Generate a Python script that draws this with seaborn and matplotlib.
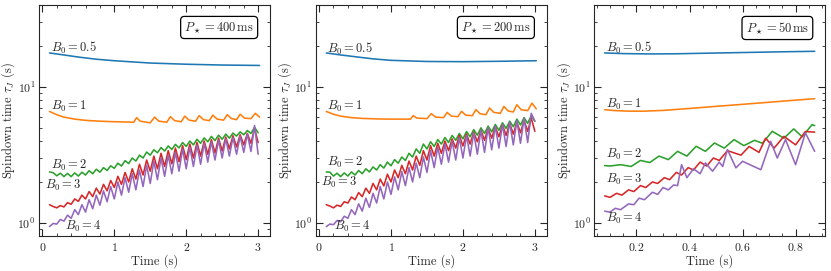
import seaborn as sns
import matplotlib.pyplot as plt
from matplotlib.ticker import MultipleLocator

# shared time grid (s) for the oscillating curves of the first two panels
t_osc = [0.10, 0.15, 0.20, 0.25, 0.30, 0.35, 0.40, 0.45, 0.50, 0.55,
         0.60, 0.65, 0.70, 0.75, 0.80, 0.85, 0.90, 0.95, 1.00, 1.05,
         1.10, 1.15, 1.20, 1.25, 1.30, 1.35, 1.40, 1.45, 1.50, 1.55,
         1.60, 1.65, 1.70, 1.75, 1.80, 1.85, 1.90, 1.95, 2.00, 2.05,
         2.10, 2.15, 2.20, 2.25, 2.30, 2.35, 2.40, 2.45, 2.50, 2.55,
         2.60, 2.65, 2.70, 2.75, 2.80, 2.85, 2.90, 2.95, 3.00]

# smooth curves (B0 = 0.5) of panels 1 and 2
t_b05 = [0.10, 0.30, 0.50, 0.75, 1.00, 1.50, 2.00, 2.50, 3.02]
p400_b05 = [17.8, 17.2, 16.6, 16.0, 15.6, 15.0, 14.7, 14.5, 14.4]
p200_b05 = [17.8, 17.2, 16.7, 16.1, 15.7, 15.4, 15.35, 15.45, 15.6]

# B0 = 1 of panels 1 and 2
t_b1 = [0.10, 0.20, 0.30, 0.45, 0.60, 0.80, 1.00, 1.20, 1.27, 1.31, 1.36, 1.50,
        1.56, 1.62, 1.73, 1.78, 1.84, 1.93, 1.98, 2.04, 2.13, 2.18, 2.24, 2.32,
        2.37, 2.43, 2.52, 2.57, 2.63, 2.70, 2.75, 2.81, 2.90, 2.96, 3.02]
p400_b1 = [6.60, 6.25, 6.00, 5.80, 5.68, 5.60, 5.55, 5.52, 5.50, 5.95, 5.60, 5.45,
           6.00, 5.60, 5.50, 6.05, 5.65, 5.55, 6.10, 5.70, 5.60, 6.15, 5.75, 5.65,
           6.20, 5.80, 5.70, 6.25, 5.85, 5.75, 6.30, 5.90, 5.85, 6.40, 6.00]
p200_b1 = [6.60, 6.30, 6.10, 5.95, 5.87, 5.82, 5.80, 5.80, 5.80, 6.15, 5.90, 5.85,
           6.36, 6.00, 5.95, 6.50, 6.10, 6.05, 6.62, 6.20, 6.15, 6.81, 6.35, 6.25,
           7.00, 6.50, 6.40, 7.20, 6.65, 6.55, 7.40, 6.80, 6.70, 7.60, 6.90]

p400_b2 = [2.37, 2.34, 2.22, 2.32, 2.19, 2.31, 2.19, 2.33, 2.21, 2.36,
           2.25, 2.42, 2.30, 2.48, 2.36, 2.55, 2.43, 2.63, 2.52, 2.75,
           2.62, 2.87, 2.73, 3.00, 2.85, 3.15, 3.00, 3.32, 3.15, 3.45,
           3.28, 3.58, 3.38, 3.68, 3.47, 3.78, 3.56, 3.90, 3.65, 4.00,
           3.75, 4.12, 3.85, 4.22, 3.95, 4.33, 4.03, 4.42, 4.12, 4.50,
           4.20, 4.58, 4.35, 4.67, 4.45, 4.78, 4.55, 5.05, 4.60]
p400_b3 = [1.36, 1.32, 1.29, 1.34, 1.31, 1.41, 1.37, 1.50, 1.44, 1.60,
           1.50, 1.70, 1.56, 1.80, 1.63, 1.92, 1.72, 2.05, 1.82, 2.20,
           1.92, 2.35, 2.00, 2.50, 2.10, 2.70, 2.25, 2.90, 2.40, 3.10,
           2.50, 3.25, 2.60, 3.40, 2.72, 3.55, 2.82, 3.70, 2.92, 3.80,
           3.00, 3.90, 3.10, 4.00, 3.20, 4.10, 3.27, 4.20, 3.38, 4.28,
           3.50, 4.38, 3.62, 4.45, 3.75, 4.55, 3.85, 4.95, 3.90]
p400_b4 = [0.94, 0.99, 0.98, 1.06, 1.03, 1.14, 1.08, 1.25, 1.15, 1.36,
           1.20, 1.48, 1.27, 1.60, 1.35, 1.72, 1.43, 1.85, 1.50, 2.00,
           1.60, 2.15, 1.68, 2.30, 1.75, 2.45, 1.85, 2.65, 1.95, 2.85,
           2.08, 3.00, 2.20, 3.15, 2.30, 3.30, 2.40, 3.50, 2.50, 3.60,
           2.60, 3.72, 2.70, 3.85, 2.80, 3.95, 2.90, 4.05, 3.00, 4.15,
           3.10, 4.25, 3.20, 4.35, 3.30, 4.50, 3.35, 5.20, 3.20]

p200_b2 = [2.37, 2.36, 2.21, 2.32, 2.19, 2.33, 2.21, 2.37, 2.25, 2.43,
           2.30, 2.50, 2.37, 2.58, 2.45, 2.68, 2.53, 2.80, 2.63, 2.92,
           2.75, 3.05, 2.88, 3.25, 3.05, 3.50, 3.25, 3.80, 3.50, 3.95,
           3.65, 4.10, 3.80, 4.25, 3.90, 4.40, 4.05, 4.55, 4.15, 4.70,
           4.30, 4.85, 4.42, 5.00, 4.55, 5.15, 4.68, 5.30, 4.80, 5.45,
           4.95, 5.60, 5.10, 5.80, 5.25, 5.95, 5.40, 6.15, 5.60]
p200_b3 = [1.36, 1.33, 1.29, 1.35, 1.32, 1.43, 1.40, 1.55, 1.48, 1.67,
           1.56, 1.80, 1.65, 1.95, 1.75, 2.10, 1.87, 2.28, 2.00, 2.45,
           2.15, 2.65, 2.30, 2.85, 2.45, 3.10, 2.65, 3.40, 2.90, 3.70,
           3.10, 3.85, 3.25, 4.00, 3.40, 4.15, 3.55, 4.40, 3.68, 4.50,
           3.80, 4.65, 3.95, 4.80, 4.05, 4.95, 4.20, 5.10, 4.30, 5.25,
           4.40, 5.40, 4.50, 5.50, 4.60, 5.70, 4.72, 5.90, 4.72]
p200_b4 = [0.94, 0.98, 0.97, 1.04, 1.02, 1.12, 1.08, 1.25, 1.15, 1.38,
           1.22, 1.52, 1.30, 1.65, 1.40, 1.85, 1.50, 2.00, 1.62, 2.18,
           1.75, 2.38, 1.88, 2.55, 2.00, 2.75, 2.15, 3.05, 2.35, 3.40,
           2.55, 3.60, 2.70, 3.80, 2.80, 4.00, 2.90, 4.25, 3.00, 4.40,
           3.10, 4.60, 3.20, 4.80, 3.30, 5.00, 3.45, 5.15, 3.55, 5.30,
           3.65, 5.50, 3.75, 5.65, 3.85, 5.90, 3.90, 6.40, 5.60]

# panel 3 (P = 50 ms)
p50_t_b05 = [0.08, 0.15, 0.25, 0.35, 0.45, 0.55, 0.65, 0.75, 0.872]
p50_b05 = [17.8, 17.6, 17.5, 17.55, 17.7, 17.85, 18.0, 18.15, 18.3]
p50_t_b1 = [0.08, 0.12, 0.17, 0.22, 0.30, 0.40, 0.50, 0.60, 0.70, 0.80, 0.872]
p50_b1 = [6.80, 6.70, 6.64, 6.63, 6.72, 6.95, 7.20, 7.45, 7.72, 8.00, 8.20]
p50_t_b2 = [0.08, 0.10, 0.14, 0.18, 0.215, 0.25, 0.285, 0.32, 0.355, 0.39, 0.425, 0.46,
            0.494, 0.531, 0.568, 0.605, 0.645, 0.675, 0.712, 0.756, 0.793, 0.825, 0.862, 0.872]
p50_b2 = [2.64, 2.62, 2.68, 2.60, 2.88, 2.78, 3.10, 2.92, 3.36, 3.10, 3.66, 3.36,
          3.87, 3.55, 4.10, 3.70, 4.05, 3.85, 4.72, 4.20, 4.91, 4.30, 5.28, 5.20]
p50_t_b3 = [0.08, 0.10, 0.125, 0.145, 0.17, 0.19, 0.215, 0.235, 0.26, 0.28, 0.305, 0.325,
            0.35, 0.37, 0.395, 0.415, 0.44, 0.465, 0.49, 0.512, 0.543, 0.594, 0.625, 0.662,
            0.687, 0.719, 0.756, 0.80, 0.837, 0.872]
p50_b3 = [1.58, 1.54, 1.65, 1.60, 1.75, 1.70, 1.88, 1.82, 2.00, 1.95, 2.15, 2.08,
          2.35, 2.25, 2.55, 2.45, 2.80, 2.62, 3.00, 2.88, 3.40, 3.15, 3.65, 3.30,
          4.20, 3.55, 4.33, 3.75, 4.70, 4.65]
p50_t_b4 = [0.08, 0.10, 0.12, 0.14, 0.17, 0.19, 0.21, 0.23, 0.26, 0.28, 0.30, 0.32,
            0.34, 0.355, 0.37, 0.39, 0.415, 0.44, 0.46, 0.487, 0.512, 0.525, 0.543, 0.575,
            0.60, 0.669, 0.706, 0.731, 0.762, 0.80, 0.837, 0.872]
p50_b4 = [1.22, 1.20, 1.28, 1.25, 1.38, 1.36, 1.52, 1.48, 1.68, 1.62, 1.82, 1.75,
          1.90, 1.88, 2.68, 2.15, 2.50, 2.30, 2.76, 2.40, 2.80, 2.60, 3.46, 2.54,
          2.84, 2.46, 3.98, 3.00, 4.10, 2.68, 4.59, 3.36]

b0_names = ["0.5", "1", "2", "3", "4"]
period_labels = ["400", "200", "50"]

panels = [
    [(t_b05, p400_b05), (t_b1, p400_b1), (t_osc, p400_b2), (t_osc, p400_b3), (t_osc, p400_b4)],
    [(t_b05, p200_b05), (t_b1, p200_b1), (t_osc, p200_b2), (t_osc, p200_b3), (t_osc, p200_b4)],
    [(p50_t_b05, p50_b05), (p50_t_b1, p50_b1), (p50_t_b2, p50_b2), (p50_t_b3, p50_b3), (p50_t_b4, p50_b4)],
]

# label anchor points (x, y) for the B0 annotations
label_pos = [
    [(0.12, 19.4), (0.12, 7.13), (0.12, 2.65), (0.03, 1.88), (0.32, 0.935)],
    [(0.115, 19.0), (0.115, 7.13), (0.115, 2.8), (0.02, 1.99), (0.21, 0.945)],
    [(0.086, 19.3), (0.086, 7.4), (0.086, 3.18), (0.086, 2.08), (0.086, 1.08)],
]

sns.set_style("ticks")
plt.rcParams["font.family"] = "serif"
plt.rcParams["font.serif"] = ["cmr10", "DejaVu Serif"]
plt.rcParams["mathtext.fontset"] = "cm"
plt.rcParams["axes.formatter.use_mathtext"] = True
plt.rcParams["axes.unicode_minus"] = False

colors = sns.color_palette("tab10")

fig = plt.figure(figsize=(8.31, 2.71), dpi=100)
lefts = [0.047, 0.380, 0.715]
for i in range(3):
    ax = fig.add_axes([lefts[i], 0.129, 0.278, 0.852])
    for j in range(5):
        tt, vv = panels[i][j]
        sns.lineplot(x=tt, y=vv, ax=ax, color=colors[j], lw=1.15)
        lx, ly = label_pos[i][j]
        ax.text(lx, ly, r"$B_0 = %s$" % b0_names[j], fontsize=9, ha="left", va="center")
    ax.set_yscale("log")
    ax.set_ylim(0.8, 40)
    if i < 2:
        ax.xaxis.set_major_locator(MultipleLocator(1))
        ax.xaxis.set_minor_locator(MultipleLocator(0.2))
    else:
        ax.xaxis.set_major_locator(MultipleLocator(0.2))
        ax.xaxis.set_minor_locator(MultipleLocator(0.05))
    ax.tick_params(which="both", direction="in", top=True, right=True, labelsize=8.5)
    ax.tick_params(which="major", length=5)
    ax.tick_params(which="minor", length=2.5)
    ax.tick_params(axis="y", pad=2.5)
    ax.set_xlabel("Time (s)", fontsize=9, labelpad=1)
    ax.set_ylabel(r"Spindown time $\tau_J$ (s)", fontsize=9, labelpad=0)
    ax.text(0.93, 0.935, r"$P_\star = %s\,\mathrm{ms}$" % period_labels[i], transform=ax.transAxes,
            ha="right", va="top", fontsize=9,
            bbox=dict(boxstyle="round,pad=0.3", fc="white", ec="black", lw=0.9))

fig.savefig("out.png", dpi=100)
